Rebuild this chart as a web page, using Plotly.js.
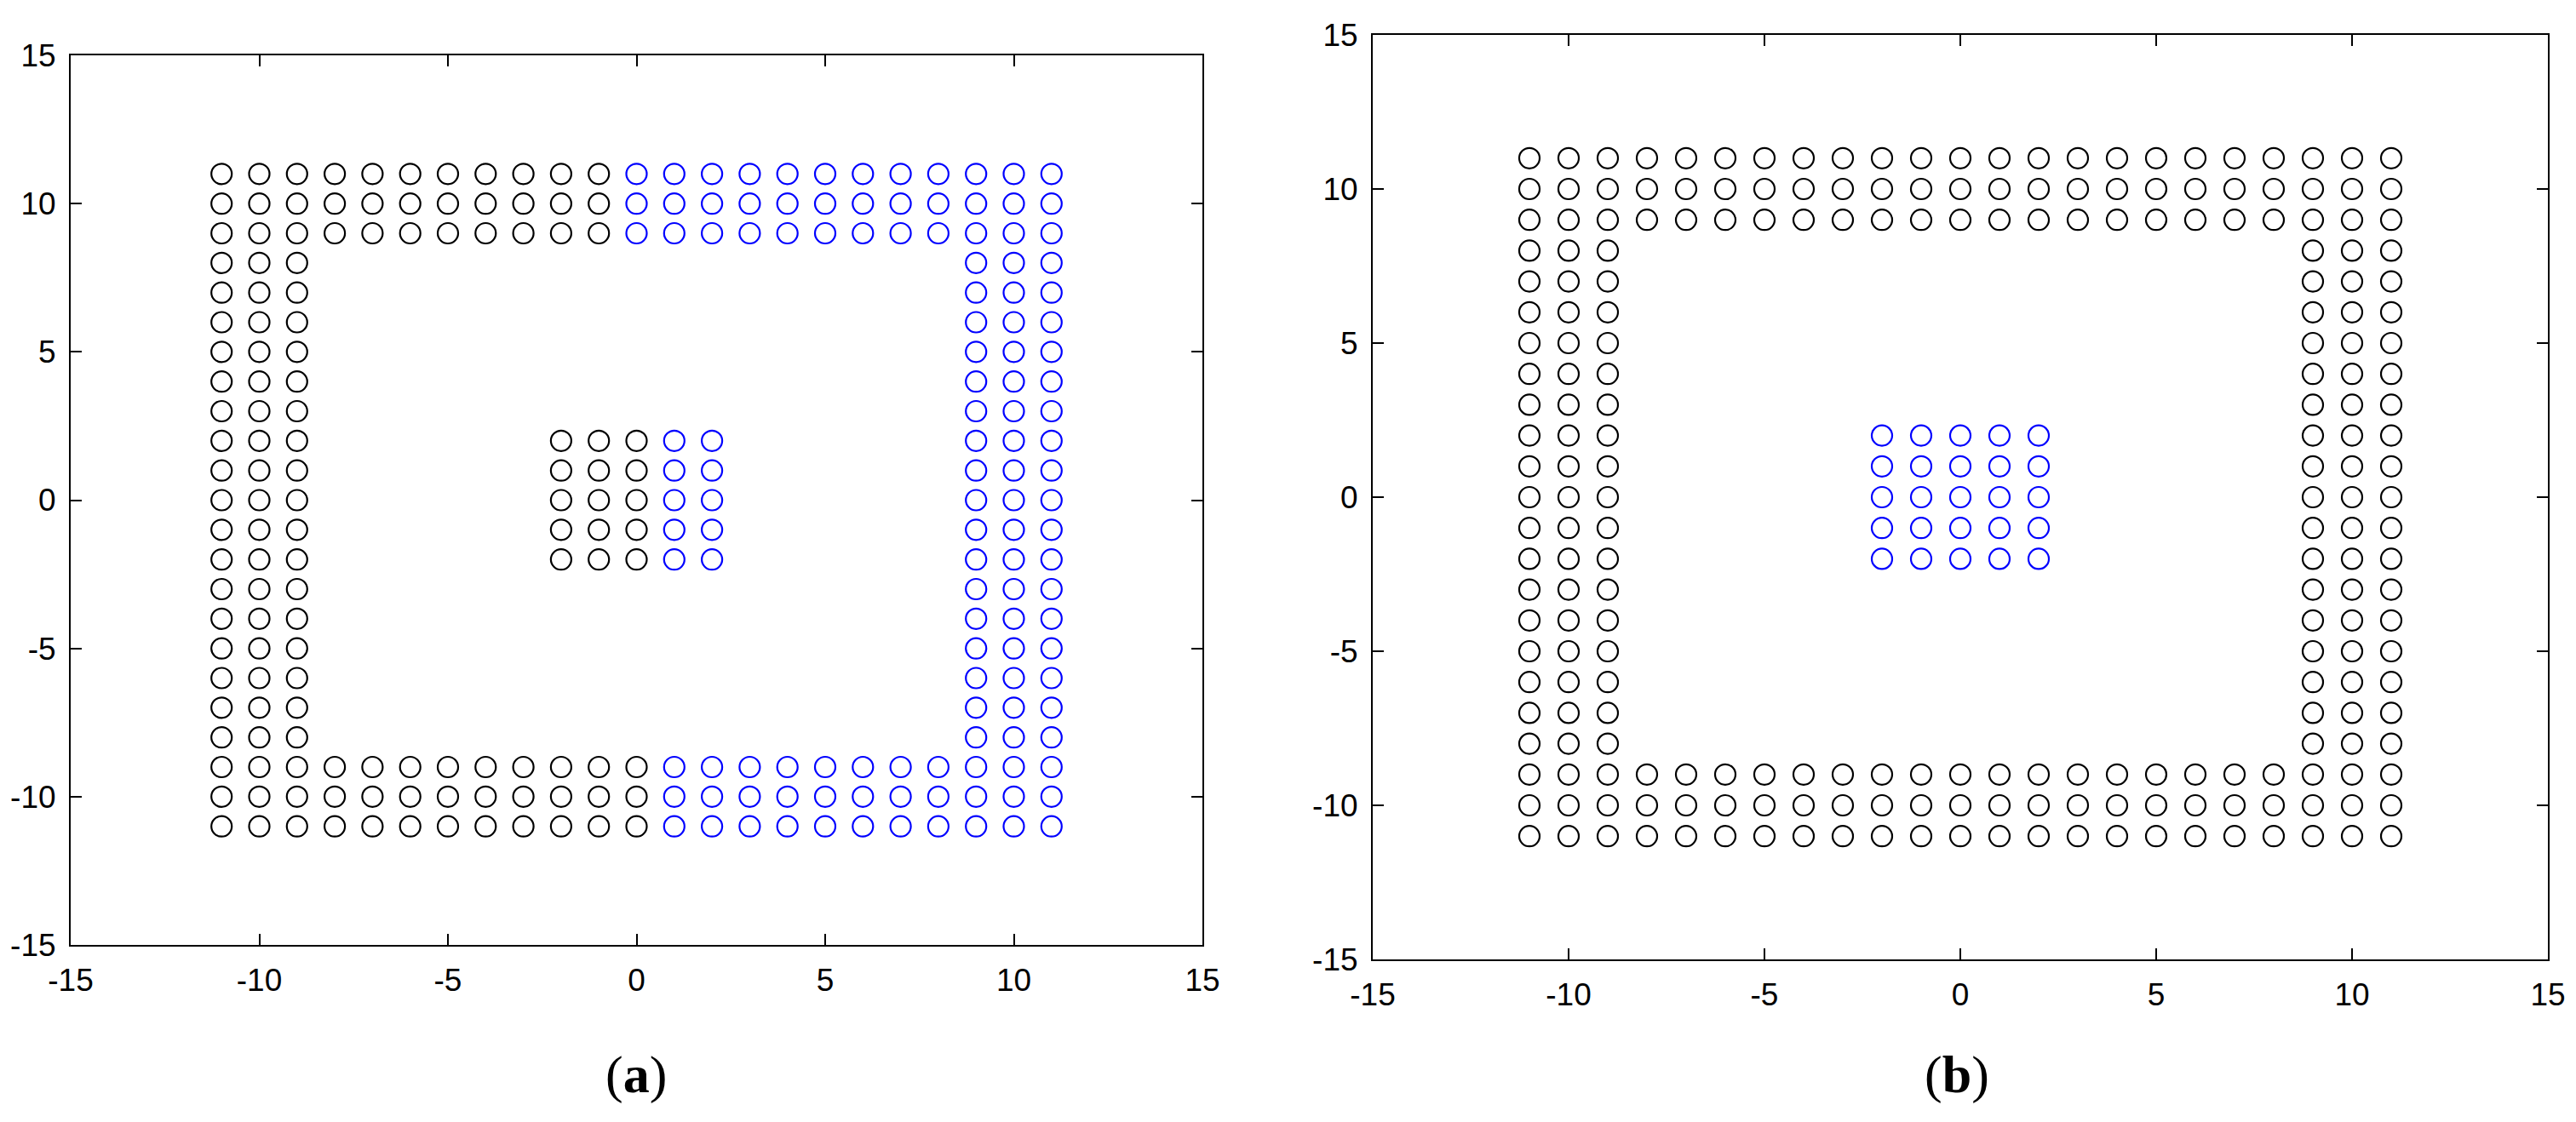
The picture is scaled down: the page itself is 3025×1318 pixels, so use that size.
<!DOCTYPE html>
<html>
<head>
<meta charset="utf-8">
<script src="https://cdn.plot.ly/plotly-3.0.1.min.js"></script>
<style>
  html, body { margin: 0; padding: 0; background: #fff; }
  #plot { width: 3025px; height: 1318px; }
</style>
</head>
<body>
<div id="plot"></div>
<script>
/*
Grid columns / rows used by the blocks of circles
*/
var full = [-11, -10, -9, -8, -7, -6, -5, -4, -3, -2, -1, 0, 1, 2, 3, 4, 5, 6, 7, 8, 9, 10, 11];
var lowBand = [-11, -10, -9];
var highBand = [9, 10, 11];
var midLeftTop = [-8, -7, -6, -5, -4, -3, -2, -1];
var midLeftBottom = [-8, -7, -6, -5, -4, -3, -2, -1, 0];
var midRightTop = [0, 1, 2, 3, 4, 5, 6, 7, 8];
var midRightBottom = [1, 2, 3, 4, 5, 6, 7, 8];
var midAll = [-8, -7, -6, -5, -4, -3, -2, -1, 0, 1, 2, 3, 4, 5, 6, 7, 8];
var innerRows = [-2, -1, 0, 1, 2];
var innerLeft = [-2, -1, 0];
var innerRight = [1, 2];
var innerAll = [-2, -1, 0, 1, 2];

// tick labels (plain hyphen, like the original)
var tickVals = [-15, -10, -5, 0, 5, 10, 15];
var tickText = ['-15', '-10', '-5', '0', '5', '10', '15'];

// each block: [x values, y values]
var blackA = [
  [lowBand, full],
  [midLeftTop, highBand],
  [midLeftBottom, lowBand],
  [innerLeft, innerRows]
];
var blueA = [
  [highBand, full],
  [midRightTop, highBand],
  [midRightBottom, lowBand],
  [innerRight, innerRows]
];
var blackB = [
  [lowBand, full],
  [highBand, full],
  [midAll, highBand],
  [midAll, lowBand]
];
var blueB = [
  [innerAll, innerRows]
];

function expand(blocks) {
  var xs = [], ys = [];
  blocks.forEach(function (b) {
    b[0].forEach(function (x) {
      b[1].forEach(function (y) {
        xs.push(x);
        ys.push(y);
      });
    });
  });
  return {x: xs, y: ys};
}

function circles(blocks, color, xa, ya) {
  var p = expand(blocks);
  return {
    type: 'scatter',
    mode: 'markers',
    x: p.x,
    y: p.y,
    xaxis: xa,
    yaxis: ya,
    hoverinfo: 'none',
    marker: {
      symbol: 'circle-open',
      size: 24,
      color: color,
      line: {width: 2.2, color: color}
    }
  };
}

var data = [
  circles(blackA, '#000000', 'x', 'y'),
  circles(blueA, '#0000ff', 'x', 'y'),
  circles(blackB, '#000000', 'x2', 'y2'),
  circles(blueB, '#0000ff', 'x2', 'y2')
];

var W = 3025, H = 1318;

function axis(domain, anchor) {
  return {
    domain: domain,
    anchor: anchor,
    range: [-15, 15],
    tickmode: 'array',
    tickvals: tickVals,
    ticktext: tickText,
    ticks: 'inside',
    ticklen: 13,
    tickwidth: 2,
    tickcolor: '#000',
    showline: true,
    linewidth: 2,
    linecolor: '#000',
    mirror: 'ticks',
    showgrid: false,
    zeroline: false,
    ticklabelstandoff: 8,
    tickfont: {family: 'Liberation Sans, Arial, sans-serif', size: 37, color: '#000'}
  };
}

var labelFont = {family: 'Liberation Serif, Times New Roman, serif', size: 62, color: '#000'};

var layout = {
  width: W,
  height: H,
  margin: {l: 0, r: 0, t: 0, b: 0},
  paper_bgcolor: '#fff',
  plot_bgcolor: '#fff',
  showlegend: false,
  xaxis: axis([83 / W, 1412 / W], 'y'),
  yaxis: axis([1 - 1110 / H, 1 - 65 / H], 'x'),
  xaxis2: axis([1612 / W, 2992 / W], 'y2'),
  yaxis2: axis([1 - 1127 / H, 1 - 41 / H], 'x2'),
  annotations: [
    {text: '(<b>a</b>)', x: 747 / W, y: 1 - 1262 / H, xref: 'paper', yref: 'paper',
     xanchor: 'center', yanchor: 'middle', showarrow: false, font: labelFont},
    {text: '(<b>b</b>)', x: 2298 / W, y: 1 - 1262 / H, xref: 'paper', yref: 'paper',
     xanchor: 'center', yanchor: 'middle', showarrow: false, font: labelFont}
  ]
};

var config = {staticPlot: true};
Plotly.newPlot('plot', data, layout, config);
</script>
</body>
</html>
